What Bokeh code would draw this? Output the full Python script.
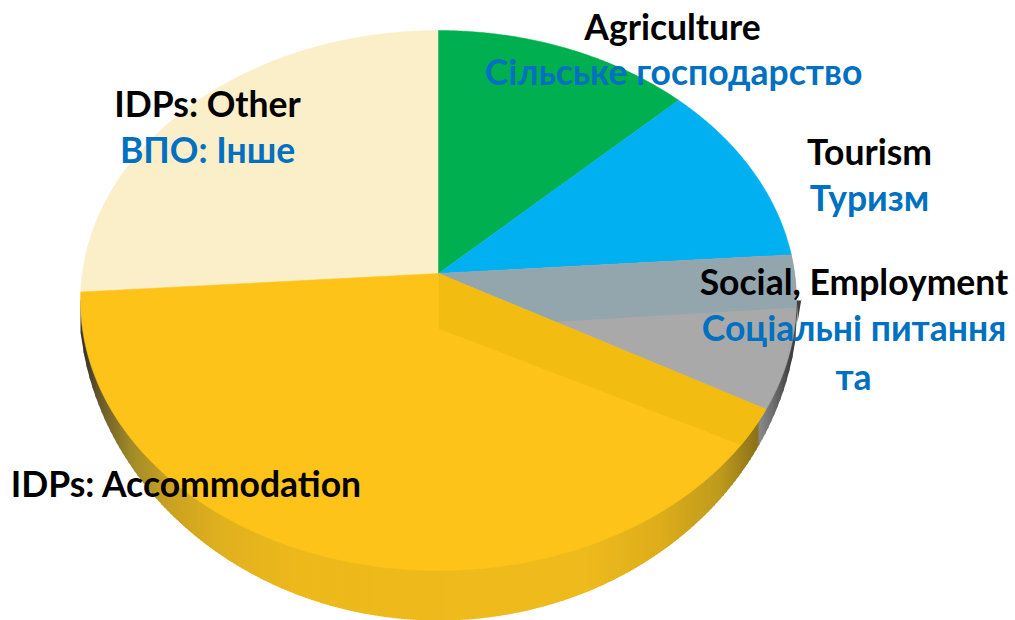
import numpy as np
from bokeh.plotting import figure
from bokeh.models import Range1d, ColumnDataSource
from bokeh.core.properties import value
from bokeh.embed import file_html
from bokeh.resources import INLINE

# Data (share of the pie, percent), clockwise from the top
categories = ["Agriculture", "Tourism", "Social, Employment", "IDPs: Accommodation", "IDPs: Other"]
shares = [11.7, 10.6, 9.3, 43.9, 24.5]
colors = ["#00AF50", "#00B0F0", "#A9A9A9", "#FDC319", "#FBEFC9"]

# Labels
labels_en = ["Agriculture", "Tourism", "Social, Employment", "IDPs: Other", "IDPs: Accommodation"]
labels_en_x = [672, 869, 853.5, 207, 186]
labels_en_y = [26, 151, 281, 103, 483]
labels_uk = ["Сільське господарство", "Туризм", "Соціальні питання", "та", "ВПО: Інше"]
labels_uk_x = [673, 869, 853.5, 853, 207]
labels_uk_y = [71, 197, 327, 376, 149]

FONT = "Lato"
W, H = 1015, 620
p = figure(width=W, height=H, output_backend="svg", toolbar_location=None,
           x_range=Range1d(0, W), y_range=Range1d(H, 0),
           min_border=0, tools="")
p.axis.visible = False
p.grid.visible = False
p.outline_line_color = None
p.background_fill_color = "white"
p.border_fill_color = "white"

# Geometry of the top face
CX, CY, RX, RY = 438.0, 300.0, 358.0, 270.0
AX, AY = 438.0, 273.0
DEPTH = 55.0
OCX, OCY, ORX, ORY = 438.0, 298.0, 360.0, 322.0


def rim(t):
    t = np.radians(t)
    return CX + RX * np.cos(t), CY - RY * np.sin(t)


def hexmix(x, xp, cols):
    rgb = np.array([[int(c[i:i + 2], 16) for i in (1, 3, 5)] for c in cols], float)
    return "#%02x%02x%02x" % tuple(int(round(np.interp(x, xp, rgb[:, k]))) for k in range(3))


# Side wall, shaded by horizontal position
gold_x = [84, 100, 130, 167, 220, 300, 580, 660, 720, 758]
gold_c = ["#3a3528", "#6a5a2a", "#a08a28", "#c9a020", "#e0b01e", "#edb91b",
          "#efbb1c", "#ddad1b", "#be9a1c", "#8a7018"]
grey_x = [758, 772, 790]
grey_c = ["#8a8a8a", "#707070", "#404040"]
wx, wy, wc = [], [], []
edges = np.arange(80.0, 798.0, 3.0)
for x0 in edges:
    x1 = x0 + 4.0
    y0 = OCY + ORY * np.sqrt(max(0.0, 1 - ((x0 - OCX) / ORX) ** 2))
    y1 = OCY + ORY * np.sqrt(max(0.0, 1 - ((x1 - OCX) / ORX) ** 2))
    wx.append([x0, x1, x1, x0])
    wy.append([300, 300, y1, y0])
    mid = x0 + 1.5
    wc.append(hexmix(mid, grey_x, grey_c) if mid > 758 else hexmix(mid, gold_x, gold_c))
p.patches("x", "y", fill_color="c", line_color=None,
          source=ColumnDataSource(dict(x=wx, y=wy, c=wc)))

# Top-face wedges (drawn through the share-derived angles)
starts = 90 - 3.6 * np.concatenate([[0], np.cumsum(shares)[:-1]])
ends = 90 - 3.6 * np.cumsum(shares)


def wedge(a, b):
    ts = np.linspace(a, b, 160)
    xs, ys = rim(ts)
    return [AX] + list(xs), [AY] + list(ys)


order = [4, 0, 1, 2]
for i in order:
    xs, ys = wedge(starts[i], ends[i])
    p.patch(xs, ys, fill_color=colors[i], line_color=colors[i], line_width=0.5)

# Cut wall of the Tourism slice seen through the Social slice
low = np.linspace(ends[1], -1.5, 10)
lx, ly = rim(low)
p.patch([AX] + list(lx) + [lx[-1] - 16, AX], [AY] + list(ly) + [ly[-1] + 1, AY + DEPTH],
        fill_color="#93A5AD", line_color=None)

# Accommodation slice on top
xs, ys = wedge(starts[3], ends[3])
p.patch(xs, ys, fill_color=colors[3], line_color=colors[3], line_width=0.5)

# Cut wall of the Accommodation slice
arc = np.linspace(starts[3], starts[3] - 8.6, 16)
bx, by = rim(arc)
p.patch([AX] + list(bx) + [AX], [AY] + list(by) + [AY + DEPTH],
        fill_color="#F3BC10", line_color=None)

# Labels
p.text(labels_en_x, labels_en_y, text=labels_en, text_font=value(FONT), text_font_style="bold",
       text_font_size="35.5px", text_color="#000000", text_align="center", text_baseline="alphabetic")
p.text(labels_uk_x, labels_uk_y, text=labels_uk, text_font=value(FONT), text_font_style="bold",
       text_font_size="35.5px", text_color="#0070C0", text_align="center", text_baseline="alphabetic")

open("out.html", "w").write(file_html(p, INLINE))
